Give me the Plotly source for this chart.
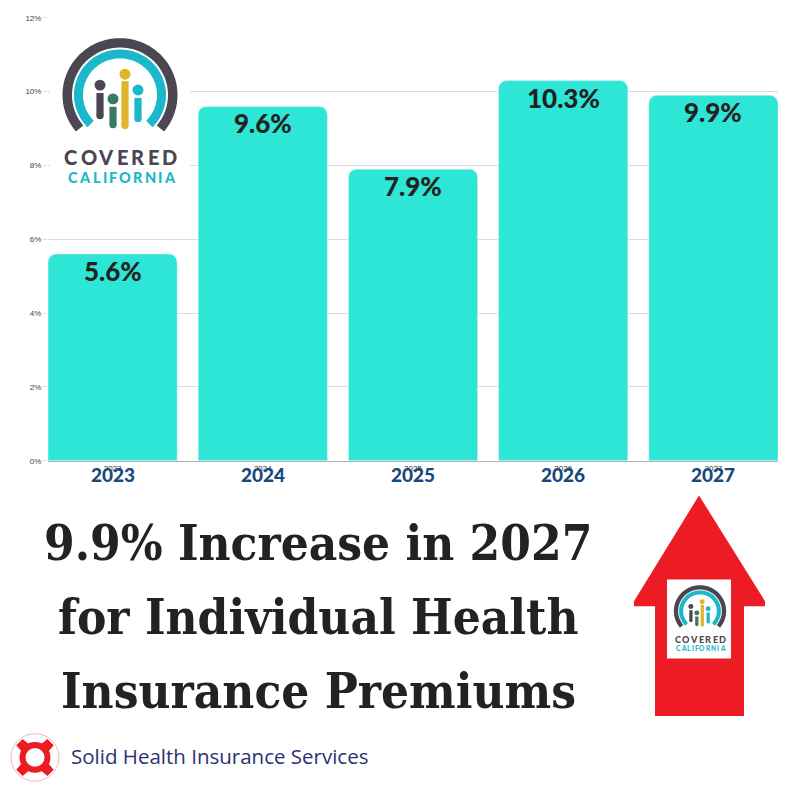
import numpy as np
import plotly.graph_objects as go

# ---------------- data ----------------
years = ["2023", "2024", "2025", "2026", "2027"]
increases = [5.6, 9.6, 7.9, 10.3, 9.9]
bar_labels = ["5.6%", "9.6%", "7.9%", "10.3%", "9.9%"]
y_ticks = [0, 2, 4, 6, 8, 10, 12]
title_lines = ["9.9% Increase in 2027", "for Individual Health", "Insurance Premiums"]
brand_text = "Solid Health Insurance Services"

W = H = 800
BAR = "#2ee6d6"
NAVY = "#17497a"
DARK = "#4b4651"
TEAL = "#1ab8ca"
GREEN = "#3a7a62"
YELLOW = "#e0b52a"
RED = "#ed1c24"

# approximate cap advance widths (em) for the tracked logo lettering
CAP_W = {"C": 0.68, "O": 0.78, "V": 0.70, "E": 0.58, "R": 0.65, "D": 0.74,
         "A": 0.72, "L": 0.55, "I": 0.30, "F": 0.55, "N": 0.76}


def P(px, py):
    return px / W, 1 - py / H


def poly_path(pts):
    s = ""
    for i, (px, py) in enumerate(pts):
        x, y = P(px, py)
        s += ("M" if i == 0 else "L") + f"{x:.5f},{y:.5f} "
    return s + "Z"


shapes = []
annotations = []


def rect(x0, y0, x1, y1, color, line=None):
    a, b = P(x0, y0)
    c, d = P(x1, y1)
    shapes.append(dict(type="rect", xref="paper", yref="paper", x0=a, x1=c, y0=d, y1=b,
                       fillcolor=color, line=dict(width=0) if line is None else line, layer="above"))


def circle(cx, cy, r, color, line=None):
    a, b = P(cx - r, cy - r)
    c, d = P(cx + r, cy + r)
    shapes.append(dict(type="circle", xref="paper", yref="paper", x0=a, x1=c, y0=d, y1=b,
                       fillcolor=color, line=dict(width=0) if line is None else line, layer="above"))


def arc(cx, cy, r_in, r_out, t1, t2, color):
    th = np.radians(np.linspace(t1, t2, 80))
    outer = [(cx + r_out * np.cos(t), cy - r_out * np.sin(t)) for t in th]
    inner = [(cx + r_in * np.cos(t), cy - r_in * np.sin(t)) for t in th[::-1]]
    shapes.append(dict(type="path", xref="paper", yref="paper", path=poly_path(outer + inner),
                       fillcolor=color, line=dict(width=0), layer="above"))


def text(px, py, s, size, color, family="Lato", weight="bold", xanchor="center"):
    x, y = P(px, py)
    annotations.append(dict(x=x, y=y, xref="paper", yref="paper", text=s, showarrow=False,
                            xanchor=xanchor, yanchor="middle",
                            font=dict(size=size, color=color, family=family, weight=weight)))


def tracked(word, x0, x1, py, size, color):
    ws = [CAP_W[c] * size for c in word]
    track = (x1 - x0 - sum(ws)) / (len(word) - 1)
    pos = x0
    for ch, w in zip(word, ws):
        text(pos + w / 2, py, ch, size, color, weight=900)
        pos += w + track


def logo(cx, cy, k):
    arc(cx, cy, 48 * k, 57.5 * k, -40, 220, DARK)
    arc(cx, cy, 37 * k, 46 * k, -45, 225, TEAL)
    figs = [(-20, -10, 90 - 92, 113 - 92, DARK),
            (-7, 4, 104 - 92, 122 - 92, GREEN),
            (5, -21, 78 - 92, 123 - 92, YELLOW),
            (18, -5, 95 - 92, 116 - 92, TEAL)]
    for dx, hy, b0, b1, col in figs:
        circle(cx + dx * k, cy + hy * k, 5.5 * k, col)
        rect(cx + (dx - 3.6) * k, cy + b0 * k, cx + (dx + 3.6) * k, cy + b1 * k, col)
        circle(cx + dx * k, cy + b1 * k, 3.6 * k, col)
    tracked("COVERED", cx - 56 * k, cx + 57 * k, cy + 63 * k, 20 * k, DARK)
    tracked("CALIFORNIA", cx - 52 * k, cx + 55 * k, cy + 83 * k, 14.5 * k, TEAL)


# ---------------- chart ----------------
idx = list(range(len(years)))
fig = go.Figure()
fig.add_trace(go.Bar(
    x=idx, y=increases, marker=dict(color=BAR, cornerradius=8),
    hoverinfo="skip",
))

# value labels just below each bar top
for i, v, lab in zip(idx, increases, bar_labels):
    annotations.append(dict(x=i, y=v, xref="x", yref="y", text=lab, showarrow=False,
                            yanchor="middle", yshift=-17,
                            font=dict(family="Lato", size=26, color="#222222", weight=900)))

# big navy year labels under the axis
for i, yr in zip(idx, years):
    annotations.append(dict(x=i, y=1 - 476 / H, xref="x", yref="paper", text=yr, showarrow=False,
                            yanchor="middle", font=dict(family="Lato", size=19, color=NAVY, weight=900)))

# white box behind the top-left logo (covers gridlines)
rect(50, 22, 190, 190, "white")
logo(120, 92, 1.0)

# title
for i, line in enumerate(title_lines):
    text(318, 545 + 75 * i, line, 49, "#222222", family="DejaVu Serif Condensed", weight="bold")

# red arrow with small logo
arrow = [(699, 497), (765, 604), (765, 609), (744, 609), (744, 720), (655, 720), (655, 609),
         (634, 609), (634, 604)]
shapes.append(dict(type="path", xref="paper", yref="paper", path=poly_path(arrow),
                   fillcolor=RED, line=dict(width=0), layer="above"))
rect(667, 582, 731, 662, "white")
logo(700, 614, 0.455)

# lifebuoy + brand
circle(35, 762, 24, "rgba(0,0,0,0)", line=dict(color="#f6b6b6", width=1))
for ang in (45, 135, 225, 315):
    t = np.radians(ang)
    pts = []
    for rr, off in ((10, -5.5), (22, -4.5), (22, 4.5), (10, 5.5)):
        nx, ny = -np.sin(t), np.cos(t)
        pts.append((35 + rr * np.cos(t) + off * nx, 762 - rr * np.sin(t) - off * ny))
    shapes.append(dict(type="path", xref="paper", yref="paper", path=poly_path(pts),
                       fillcolor=RED, line=dict(width=0), layer="above"))
circle(35, 762, 12.5, "rgba(0,0,0,0)", line=dict(color=RED, width=6))
text(69, 761, brand_text, 20.5, "#2b3272", family="Open Sans", weight="normal", xanchor="left")

fig.update_layout(
    width=W, height=H, margin=dict(l=0, r=0, t=0, b=0),
    paper_bgcolor="white", plot_bgcolor="white", showlegend=False,
    bargap=0.14,
    xaxis=dict(domain=[48 / W, 778 / W], range=[-0.43, 4.43], showgrid=False,
               tickvals=idx, ticktext=years,
               showline=True, linecolor="#b0b0b0", linewidth=1,
               tickfont=dict(size=8, color="#333333", family="Liberation Sans"),
               ticks="", fixedrange=True),
    yaxis=dict(domain=[1 - 462 / H, 1 - 14 / H], range=[0, 12], tickvals=y_ticks,
               ticktext=[f"{v}%" for v in y_ticks], showgrid=True, gridcolor="#dcdcdc",
               gridwidth=1, zeroline=False, showline=False, ticks="outside", ticklen=4,
               tickcolor="#dcdcdc", tickfont=dict(size=8, color="#444444", family="Liberation Sans"),
               fixedrange=True),
    shapes=shapes, annotations=annotations,
)

fig.write_html("out.html")
